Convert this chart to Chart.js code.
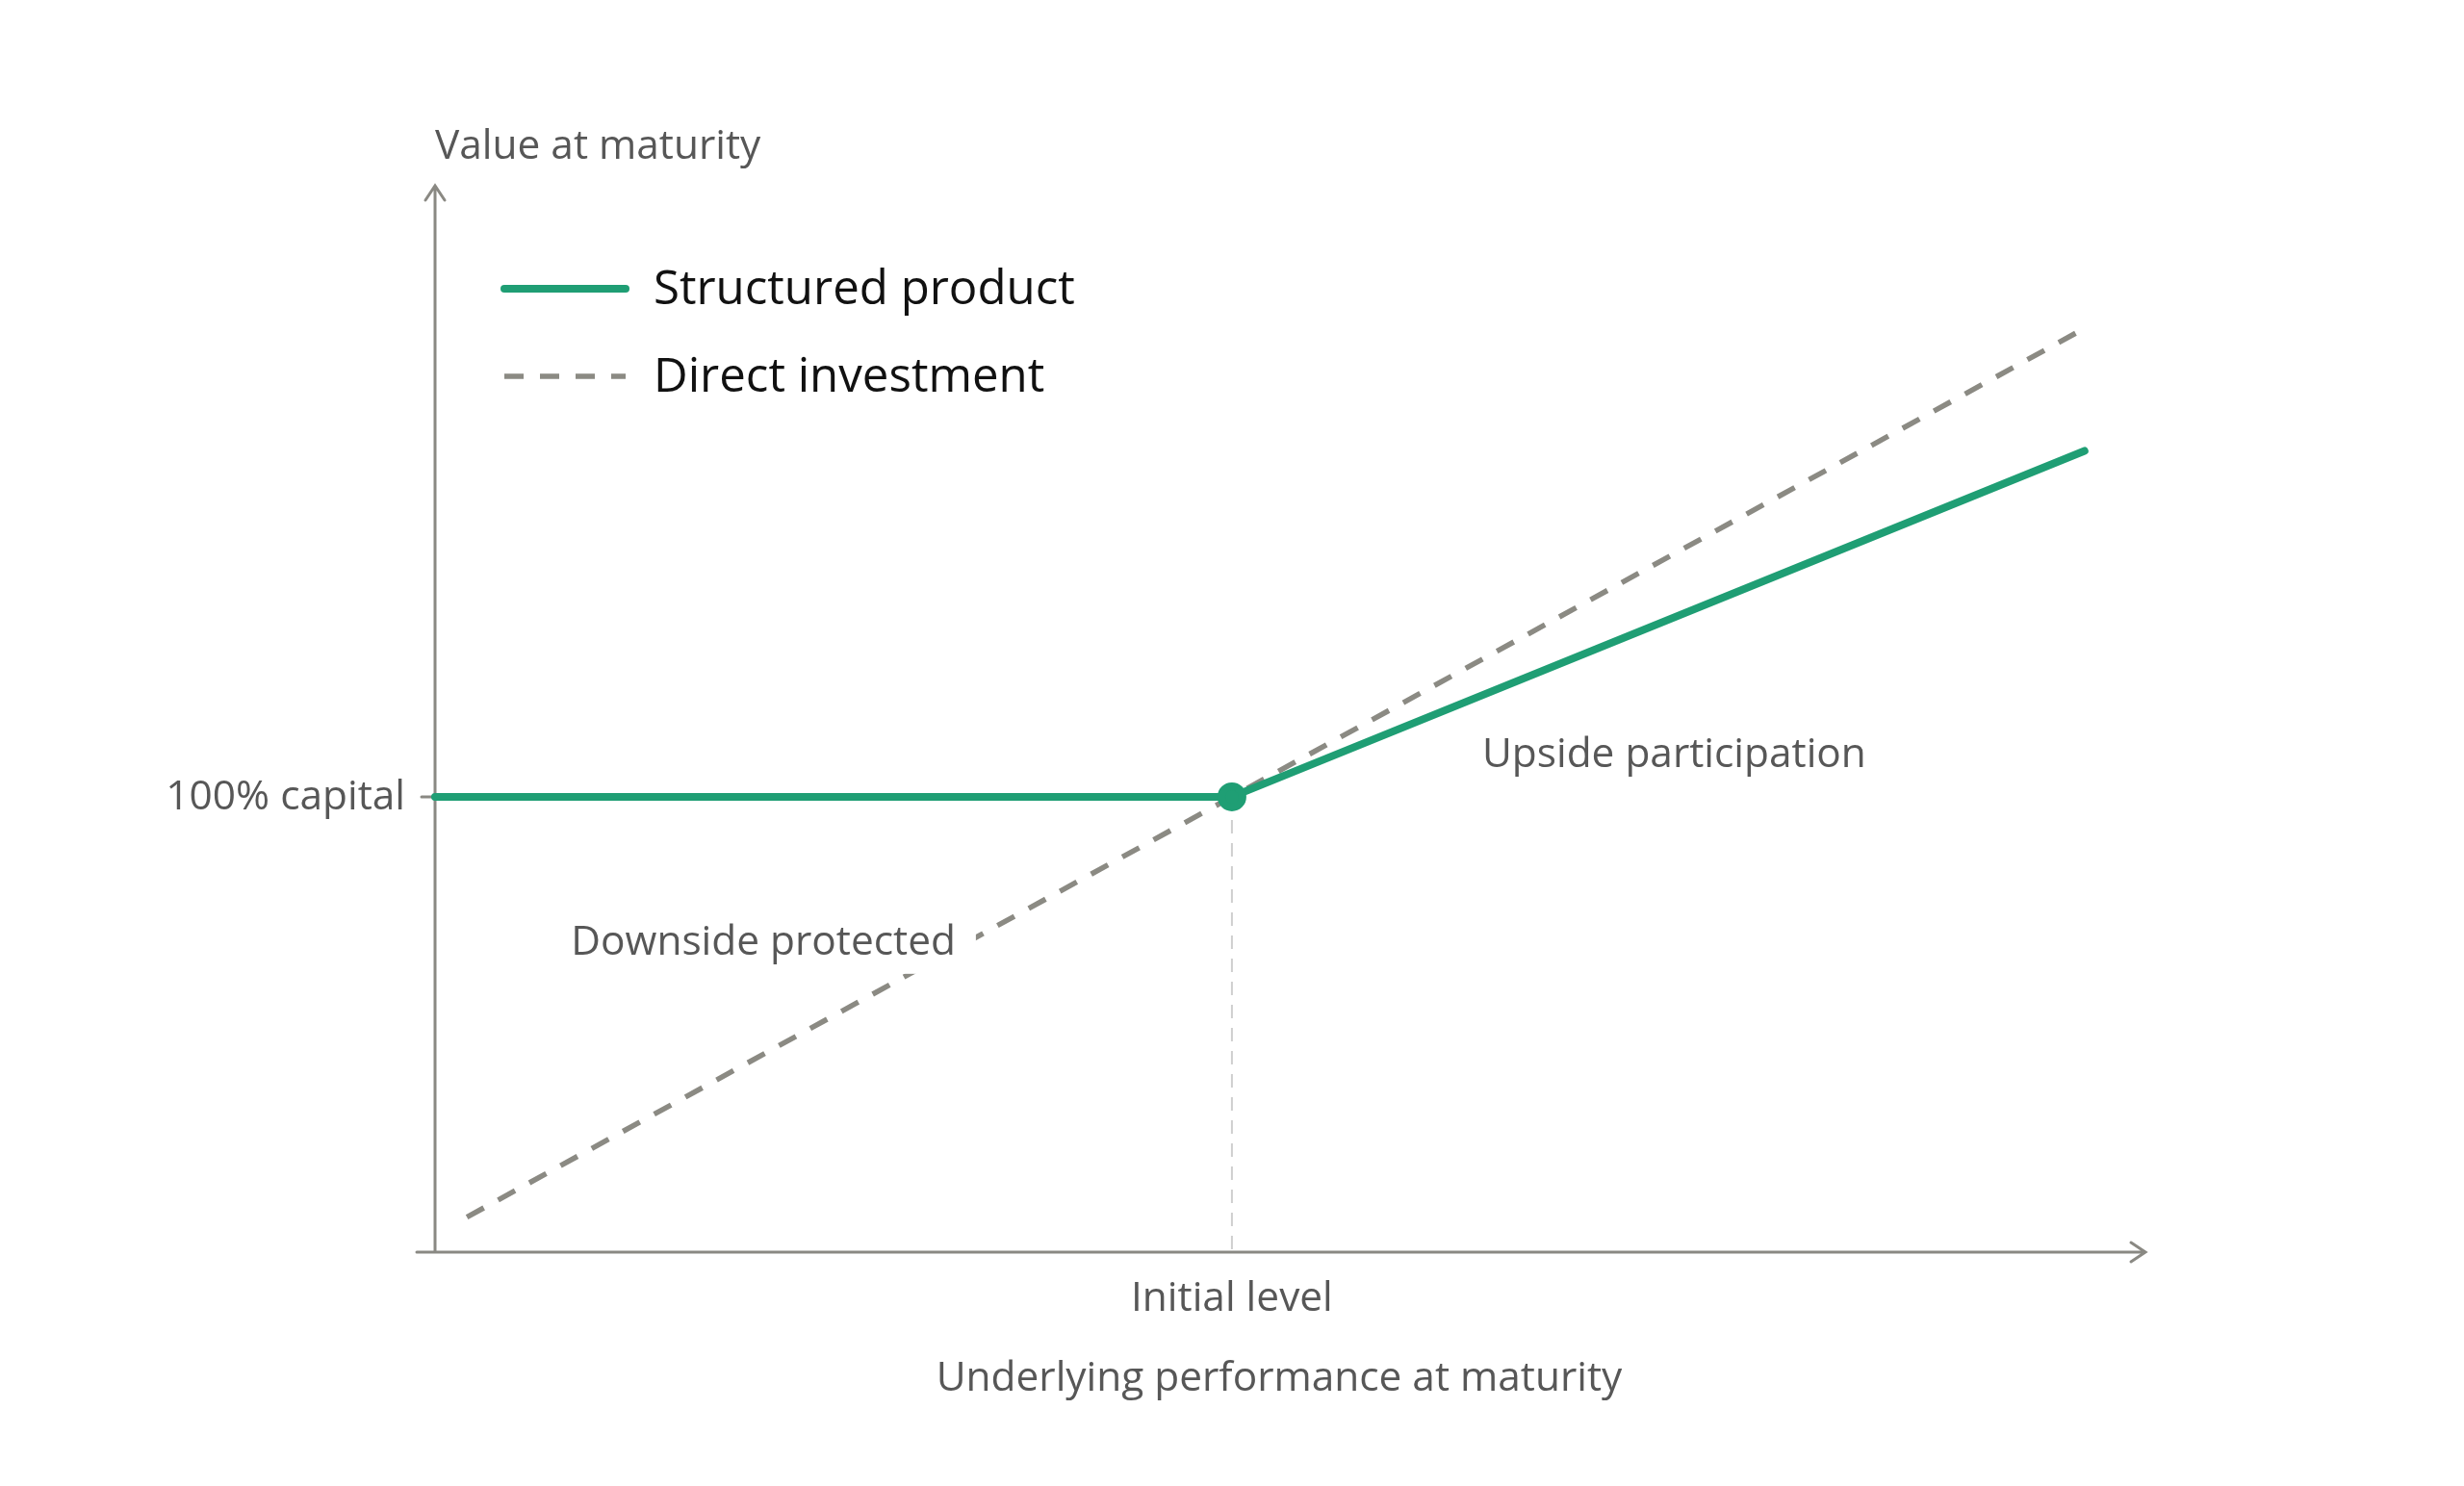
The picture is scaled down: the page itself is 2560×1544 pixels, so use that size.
<!DOCTYPE html>
<html>
<head>
<meta charset="utf-8">
<script src="https://cdn.jsdelivr.net/npm/chart.js@4.4.1/dist/chart.umd.min.js"></script>
<style>
  html, body { margin: 0; padding: 0; background: #ffffff; }
  #wrap { width: 2560px; height: 1544px; }
</style>
</head>
<body>
<div id="wrap"><canvas id="c" width="2560" height="1544"></canvas></div>
<script>
// ---- Data ----
const seriesNames = ['Structured product', 'Direct investment'];
const structuredX = [-100, 0, 107];
const structuredY = [100, 100, 179];
const directX = [-96, 106];
const directY = [4, 206];
const xTickValues = [0];
const xTickLabels = ['Initial level'];
const yTickValues = [100];
const yTickLabels = ['100% capital'];
const xAxisTitle = 'Underlying performance at maturity';
const yAxisTitle = 'Value at maturity';
const annotations = [
  { text: 'Upside participation', x: 55.5, y: 109.5, box: false },
  { text: 'Downside protected', x: -58.8, y: 66.6, box: true }
];

// ---- Style ----
const GREEN = '#1f9e74';
const DASH_GRAY = '#8b8a83';
const AXIS_GRAY = '#8a8983';
const TEXT_GRAY = '#575757';
const FAMILY = '"Open Sans", "Noto Sans", sans-serif';

function fitSize(ctx, text, target) {
  ctx.font = '100px ' + FAMILY;
  return 100 * target / ctx.measureText(text).width;
}

const decor = {
  id: 'decor',
  beforeDatasetsDraw(chart) {
    const ctx = chart.ctx, xs = chart.scales.x, ys = chart.scales.y;
    const x0 = xs.getPixelForValue(xs.min), y0 = ys.getPixelForValue(ys.min);
    const yTop = ys.getPixelForValue(ys.max) + 2, xRight = xs.getPixelForValue(xs.max) - 3;
    ctx.save();
    // vertical reference line at initial level
    ctx.strokeStyle = '#cfcfcf'; ctx.lineWidth = 2; ctx.setLineDash([14, 10]);
    ctx.beginPath();
    ctx.moveTo(xs.getPixelForValue(xTickValues[0]), ys.getPixelForValue(yTickValues[0]));
    ctx.lineTo(xs.getPixelForValue(xTickValues[0]), y0);
    ctx.stroke();
    ctx.setLineDash([]);
    // axes
    ctx.strokeStyle = AXIS_GRAY; ctx.lineWidth = 3; ctx.lineCap = 'round';
    ctx.beginPath();
    ctx.moveTo(x0, y0); ctx.lineTo(x0, yTop);
    ctx.moveTo(x0 - 10, yTop + 15); ctx.lineTo(x0, yTop); ctx.lineTo(x0 + 10, yTop + 15);
    ctx.moveTo(x0 - 19, y0); ctx.lineTo(xRight, y0);
    ctx.moveTo(xRight - 15, y0 - 10); ctx.lineTo(xRight, y0); ctx.lineTo(xRight - 15, y0 + 10);
    // y tick
    yTickValues.forEach(v => { const p = ys.getPixelForValue(v); ctx.moveTo(x0 - 14, p); ctx.lineTo(x0, p); });
    ctx.stroke();
    ctx.restore();
  },
  afterDatasetsDraw(chart) {
    const ctx = chart.ctx, xs = chart.scales.x, ys = chart.scales.y;
    const x0 = xs.getPixelForValue(xs.min), y0 = ys.getPixelForValue(ys.min);
    ctx.save();
    const gs = fitSize(ctx, xAxisTitle, 712);
    const grayFont = gs.toFixed(1) + 'px ' + FAMILY;
    ctx.fillStyle = TEXT_GRAY; ctx.font = grayFont; ctx.textBaseline = 'middle';
    // axis titles
    ctx.textAlign = 'left';
    ctx.fillText(yAxisTitle, x0, ys.getPixelForValue(ys.max) - 38);
    ctx.textAlign = 'center';
    ctx.fillText(xAxisTitle, (chart.chartArea.left + chart.chartArea.right) / 2 - 13, y0 + 132);
    // tick labels
    xTickValues.forEach((v, i) => ctx.fillText(xTickLabels[i], xs.getPixelForValue(v), y0 + 49));
    ctx.textAlign = 'right';
    yTickValues.forEach((v, i) => ctx.fillText(yTickLabels[i], x0 - 31, ys.getPixelForValue(v) + 1));
    // annotations
    annotations.forEach(a => {
      const px = xs.getPixelForValue(a.x), py = ys.getPixelForValue(a.y);
      ctx.textAlign = 'center';
      if (a.box) {
        const w = ctx.measureText(a.text).width;
        ctx.fillStyle = '#ffffff';
        ctx.fillRect(px - w / 2 - 21, py - 32, w + 42, 64);
      }
      ctx.fillStyle = TEXT_GRAY;
      ctx.fillText(a.text, px, py);
    });
    // legend
    const ls = fitSize(ctx, seriesNames[0], 438);
    ctx.font = ls.toFixed(1) + 'px ' + FAMILY;
    ctx.textAlign = 'left';
    const lx = 524, lw = 126, tx = 679, rows = [300, 391];
    chart.data.datasets.forEach((ds, i) => {
      ctx.strokeStyle = ds.borderColor; ctx.lineWidth = ds.borderWidth;
      ctx.setLineDash(ds.borderDash || []);
      ctx.lineCap = ds.borderDash ? 'butt' : 'round';
      ctx.beginPath(); ctx.moveTo(lx, rows[i]); ctx.lineTo(lx + lw, rows[i]); ctx.stroke();
      ctx.setLineDash([]);
      ctx.fillStyle = '#111111';
      ctx.fillText(ds.label, tx, rows[i] + 2);
    });
    ctx.restore();
  }
};

new Chart(document.getElementById('c'), {
  type: 'scatter',
  data: {
    datasets: [
      {
        label: seriesNames[0],
        data: structuredX.map((x, i) => ({ x, y: structuredY[i] })),
        showLine: true, borderColor: GREEN, backgroundColor: GREEN, borderWidth: 8,
        borderCapStyle: 'round', borderJoinStyle: 'round',
        pointRadius: [0, 11, 0], pointHoverRadius: 0, order: 1, clip: false
      },
      {
        label: seriesNames[1],
        data: directX.map((x, i) => ({ x, y: directY[i] })),
        showLine: true, borderColor: DASH_GRAY, backgroundColor: DASH_GRAY, borderWidth: 5.5,
        borderDash: [20, 17], pointRadius: 0, pointHoverRadius: 0, order: 2, clip: false
      }
    ]
  },
  options: {
    responsive: false, animation: false, devicePixelRatio: 1,
    layout: { padding: { left: 452, right: 328, top: 191, bottom: 243 } },
    scales: {
      x: { type: 'linear', min: -100, max: 115, display: false },
      y: { type: 'linear', min: -4, max: 240, display: false }
    },
    plugins: { legend: { display: false }, tooltip: { enabled: false } }
  },
  plugins: [decor]
});
</script>
</body>
</html>
